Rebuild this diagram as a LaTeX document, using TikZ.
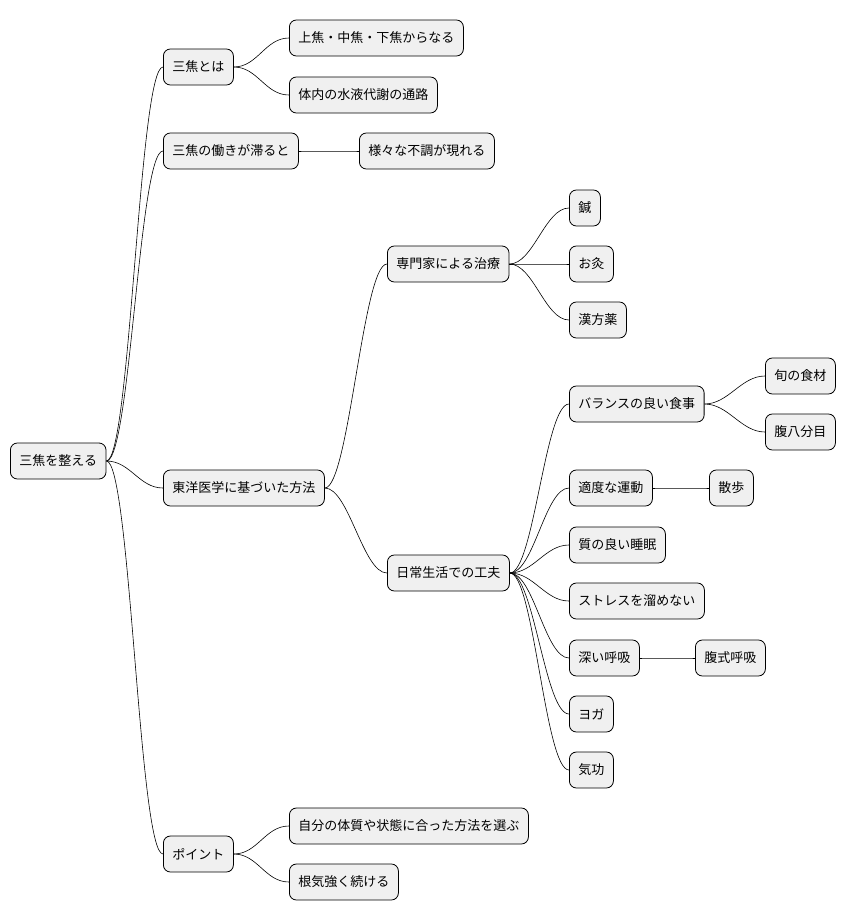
\documentclass[tikz,border=0pt]{standalone}
\usepackage{fontspec}
\setmainfont{Noto Sans CJK JP}
\begin{document}
\begin{tikzpicture}[x=1pt,y=-1pt,
  box/.style={draw=black,fill=black!6,rounded corners=7pt,minimum height=36pt,inner xsep=9pt,anchor=west,font=\fontsize{13pt}{15pt}\selectfont,line width=0.8pt},
  con/.style={draw=black,line width=0.6pt}]
\useasboundingbox (0,0) rectangle (852,921);
\node[box] (r) at (10,461) {三焦を整える};
\node[box] (a) at (163,67) {三焦とは};
\node[box] (a1) at (289,38) {上焦・中焦・下焦からなる};
\node[box] (a2) at (289,95) {体内の水液代謝の通路};
\node[box] (b) at (163,151) {三焦の働きが滞ると};
\node[box] (b1) at (359,151) {様々な不調が現れる};
\node[box] (c) at (163,488) {東洋医学に基づいた方法};
\node[box] (c1) at (387,264) {専門家による治療};
\node[box] (c11) at (569,208) {鍼};
\node[box] (c12) at (569,264) {お灸};
\node[box] (c13) at (569,320) {漢方薬};
\node[box] (c2) at (387,573) {日常生活での工夫};
\node[box] (d1) at (569,404) {バランスの良い食事};
\node[box] (d11) at (765,376) {旬の食材};
\node[box] (d12) at (765,432) {腹八分目};
\node[box] (d2) at (569,488) {適度な運動};
\node[box] (d21) at (709,488) {散歩};
\node[box] (d3) at (569,545) {質の良い睡眠};
\node[box] (d4) at (569,601) {ストレスを溜めない};
\node[box] (d5) at (569,658) {深い呼吸};
\node[box] (d51) at (695,658) {腹式呼吸};
\node[box] (d6) at (569,714) {ヨガ};
\node[box] (d7) at (569,770) {気功};
\node[box] (p) at (163,854) {ポイント};
\node[box] (p1) at (289,826) {自分の体質や状態に合った方法を選ぶ};
\node[box] (p2) at (289,882) {根気強く続ける};
\foreach \s/\t in {r/a,r/b,r/c,r/p,a/a1,a/a2,b/b1,c/c1,c/c2,c1/c11,c1/c12,c1/c13,c2/d1,c2/d2,c2/d3,c2/d4,c2/d5,c2/d6,c2/d7,d1/d11,d1/d12,d2/d21,d5/d51,p/p1,p/p2}
  \draw[con] (\s.east) .. controls ([xshift=24pt]\s.east) and ([xshift=-24pt]\t.west) .. (\t.west);
\end{tikzpicture}
\end{document}
